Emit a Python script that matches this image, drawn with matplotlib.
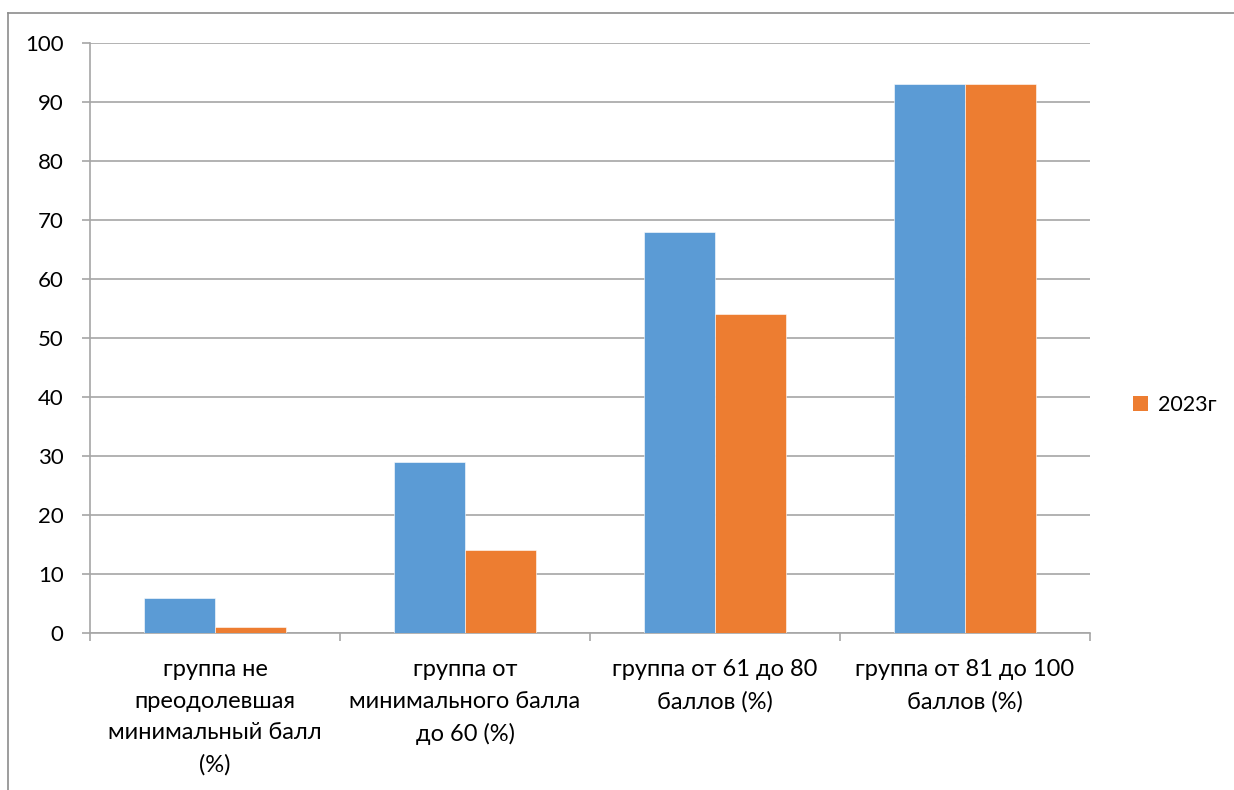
import matplotlib
matplotlib.use("Agg")
import matplotlib.pyplot as plt
from matplotlib.lines import Line2D
from matplotlib.patches import Patch
import numpy as np

plt.rcParams['font.family'] = ['Lato', 'DejaVu Sans']

categories = [
    "группа не\nпреодолевшая\nминимальный балл\n(%)",
    "группа от\nминимального балла\nдо 60 (%)",
    "группа от 61 до 80\nбаллов (%)",
    "группа от 81 до 100\nбаллов (%)",
]
series_prev = [6, 29, 68, 93]
series_2023 = [1, 14, 54, 93]
legend_label = "2023г"
yticks = [0, 10, 20, 30, 40, 50, 60, 70, 80, 90, 100]

BLUE = "#5B9BD5"
ORANGE = "#ED7D31"
GRID = "#A6A6A6"

W, H = 1234, 790
fig = plt.figure(figsize=(W / 100, H / 100), dpi=100)
ax = fig.add_axes([90 / W, 1 - 633 / H, 1000 / W, 590 / H])

x = np.arange(len(categories))
bw = 1 / 3.5
ax.bar(x - bw / 2, series_prev, width=bw, color=BLUE, edgecolor="white", linewidth=0.4, zorder=3)
ax.bar(x + bw / 2, series_2023, width=bw, color=ORANGE, edgecolor="white", linewidth=0.4, zorder=3)

ax.set_xlim(-0.5, len(categories) - 0.5)
ax.set_ylim(0, 100)
ax.set_yticks(yticks)
ax.yaxis.grid(True, color=GRID, linewidth=1.2, zorder=0)
ax.tick_params(axis="y", length=6, width=1.2, color=GRID, pad=13, labelsize=16)

ax.set_xticks(x)
ax.set_xticklabels(categories, fontsize=17, linespacing=1.62)
ax.tick_params(axis="x", which="major", length=0, pad=19)
ax.set_xticks(np.arange(len(categories) + 1) - 0.5, minor=True)
ax.tick_params(axis="x", which="minor", length=6, width=1.2, color=GRID)

for side in ("top", "right"):
    ax.spines[side].set_visible(False)
for side in ("left", "bottom"):
    ax.spines[side].set_color(GRID)
    ax.spines[side].set_linewidth(1.2)

handles = [Patch(facecolor=ORANGE, edgecolor="none")]
fig.legend(handles, [legend_label], loc="center left",
           bbox_to_anchor=(1114 / W, 1 - 405 / H), frameon=False,
           fontsize=15.5, handlelength=0.7, handleheight=0.7, handletextpad=0.45)

# chart-area border (top and left edges)
frame_color = "#8C8C8C"
fig.add_artist(Line2D([8 / W, 1], [1 - 13 / H, 1 - 13 / H], transform=fig.transFigure,
                      color=frame_color, linewidth=1.2))
fig.add_artist(Line2D([8 / W, 8 / W], [0, 1 - 13 / H], transform=fig.transFigure,
                      color=frame_color, linewidth=1.2))

fig.savefig("out.png", dpi=100, facecolor="white")
